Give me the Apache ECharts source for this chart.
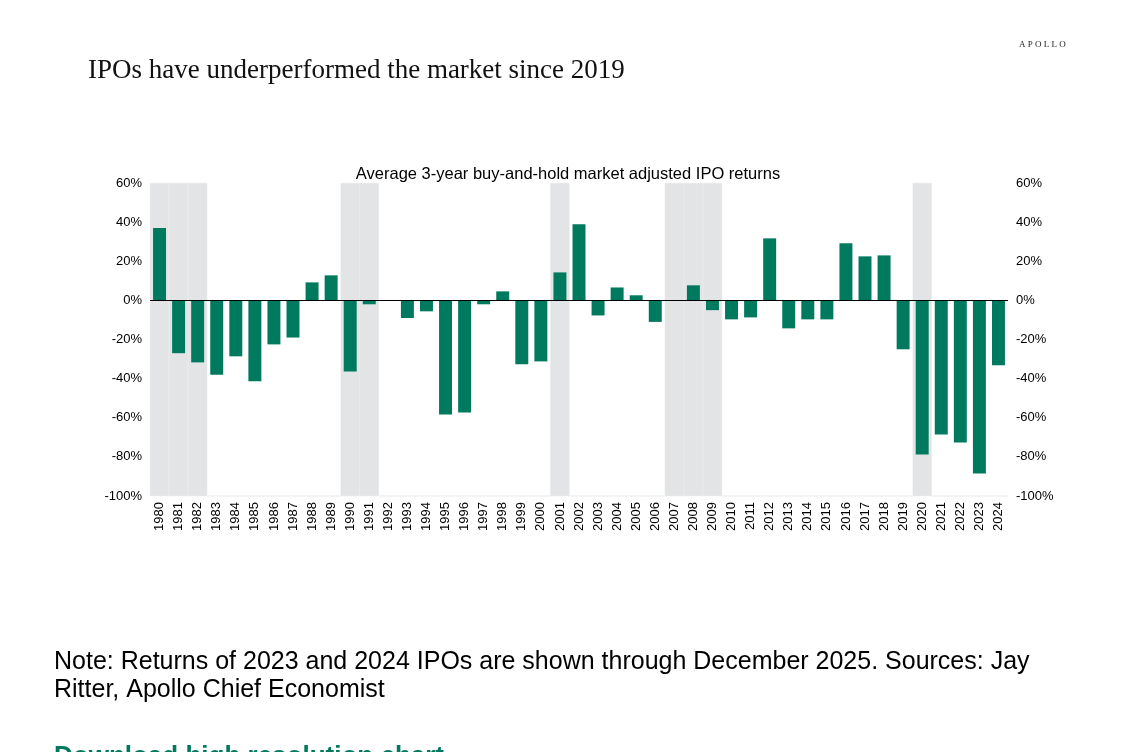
<!DOCTYPE html>
<html>
<head>
<meta charset="utf-8">
<script src="https://cdn.jsdelivr.net/npm/echarts@6/dist/echarts.min.js"></script>
<style>html,body{margin:0;padding:0;background:#fff}#chart{width:1136px;height:752px}</style>
</head>
<body>
<div id="chart"></div>
<script>
const years = [];
for (let y = 1980; y <= 2024; y++) years.push(String(y));
const returns = [37, -27, -31.7, -38, -28.6, -41.4, -22.5, -19, 9.2, 12.8,
  -36.3, -2, 0, -9, -5.6, -58.3, -57.3, -2, 4.6, -32.7,
  -31.2, 14.3, 38.9, -7.7, 6.6, 2.6, -11, -0.3, 7.7, -5,
  -9.7, -8.7, 31.7, -14.3, -9.7, -9.7, 29.2, 22.5, 23, -25,
  -78.8, -68.5, -72.6, -88.5, -33.2];
const recessionYears = ['1980', '1981', '1982', '1990', '1991', '2001', '2007', '2008', '2009', '2020'];
const shade = years.map(y => recessionYears.includes(y) ? 1 : 0);

const chart = echarts.init(document.getElementById('chart'));
const axisLabel = { color: '#000', fontSize: 13, fontFamily: 'Arial', formatter: '{value}%' };
chart.setOption({
  animation: false,
  graphic: [
    { type: 'text', left: 88, top: 57, style: { text: 'IPOs have underperformed the market since 2019', font: '27px "Liberation Serif"', fill: '#111' } },
    { type: 'text', left: 1019, top: 40, style: { text: 'A P O L L O', font: '9px "Liberation Serif"', fill: '#222' } },
    { type: 'text', left: 54, top: 648, style: { text: 'Note: Returns of 2023 and 2024 IPOs are shown through December 2025. Sources: Jay\nRitter, Apollo Chief Economist', font: '25px "Liberation Sans"', fill: '#000', lineHeight: 28 } },
    { type: 'text', left: 54, top: 744, style: { text: 'Download high resolution chart', font: 'bold 26px "Liberation Sans"', fill: '#007a5e' } }
  ],
  title: { text: 'Average 3-year buy-and-hold market adjusted IPO returns', left: 'center', top: 161, textStyle: { fontSize: 16.5, fontWeight: 'normal', color: '#000', fontFamily: 'Arial' } },
  grid: { left: 150, right: 128, top: 183, bottom: 256 },
  xAxis: [
    {
      type: 'category', data: years,
      axisLine: { show: false }, axisTick: { show: false },
      axisLabel: { rotate: 90, interval: 0, color: '#000', fontSize: 13, fontFamily: 'Arial', margin: 6 }
    },
    { type: 'category', data: years, show: false }
  ],
  yAxis: [
    { type: 'value', min: -100, max: 60, interval: 20, splitLine: { show: false }, axisLabel: axisLabel },
    { type: 'value', min: -100, max: 60, interval: 20, splitLine: { show: false }, axisLabel: Object.assign({}, axisLabel, { align: 'left' }) },
    { type: 'value', min: 0, max: 1, show: false }
  ],
  series: [
    { type: 'bar', xAxisIndex: 1, yAxisIndex: 2, data: shade, barWidth: '100%', itemStyle: { color: '#e3e4e5', borderColor: '#e3e4e5', borderWidth: 0.5 }, silent: true, z: 1 },
    { type: 'bar', xAxisIndex: 0, yAxisIndex: 0, data: returns, barWidth: '68%', itemStyle: { color: '#007a5e' }, z: 2,
      markLine: { symbol: 'none', silent: true, label: { show: false }, lineStyle: { color: '#000', width: 1, type: 'solid' }, data: [{ yAxis: 0 }] } }
  ]
});
</script>
</body>
</html>
